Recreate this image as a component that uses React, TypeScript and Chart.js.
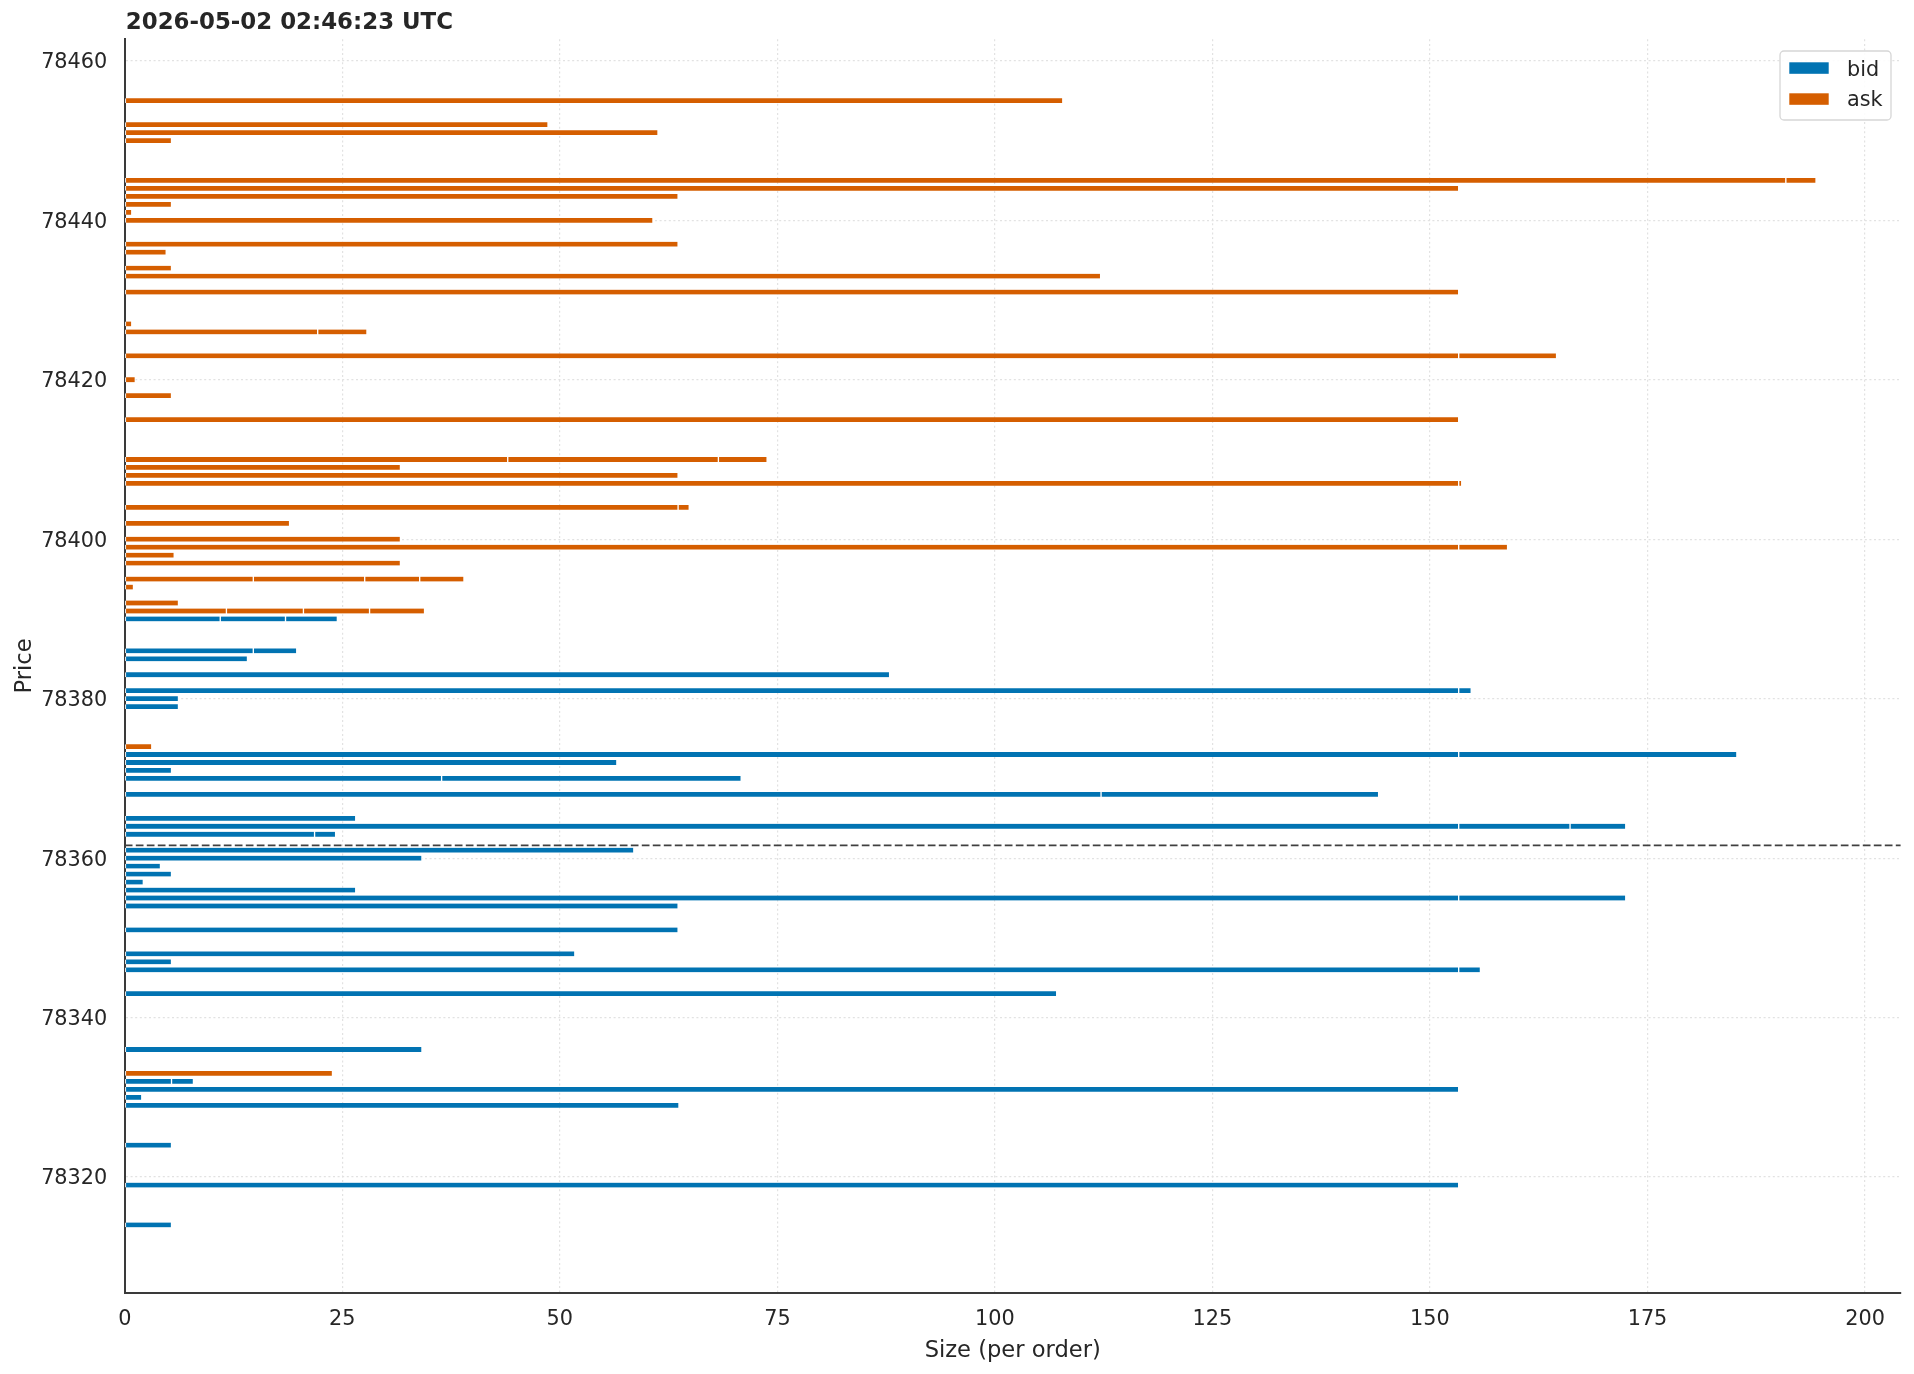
import { useEffect, useRef } from "react";
import { Chart, registerables } from "chart.js";

Chart.register(...registerables);

// Canvas / styling constants
const W = 1914;
const H = 1374;
const FONT = '"DejaVu Sans", "Liberation Sans", sans-serif';
const TEXT = "#262626";
const BID_COLOR = "#0173B2";
const ASK_COLOR = "#D55E00";

const chartTitle = "2026-05-02 02:46:23 UTC";
const xTitle = "Size (per order)";
const yTitle = "Price";

// Order book snapshot: one entry per price level, each level lists its resting orders
const askPrices = [
  78455, 78452, 78451, 78450, 78445, 78444, 78443, 78442, 78441, 78440,
  78437, 78436, 78434, 78433, 78431, 78427, 78426, 78423, 78420, 78418,
  78415, 78410, 78409, 78408, 78407, 78404, 78402, 78400, 78399, 78398,
  78397, 78395, 78394, 78392, 78391, 78374, 78333,
];
const askOrders = [
  [107.8], [48.64], [61.28], [5.37], [190.9, 3.47], [153.3], [63.59], [5.37], [0.8], [60.7],
  [63.59], [4.76], [5.37], [112.15], [153.3], [0.8], [22.17, 5.66], [153.3, 11.25], [1.21], [5.37],
  [153.3], [44.01, 24.21, 5.6], [31.68], [63.59], [153.3, 0.35], [63.59, 1.28], [18.94], [31.68], [153.3, 5.62], [5.68],
  [31.68], [14.77, 12.8, 6.32, 5.09], [1.0], [6.17], [11.68, 8.85, 7.6, 6.32], [3.1], [23.87],
];

const bidPrices = [
  78390, 78386, 78385, 78383, 78381, 78380, 78379, 78373, 78372, 78371,
  78370, 78368, 78365, 78364, 78363, 78361, 78360, 78359, 78358, 78357,
  78356, 78355, 78354, 78351, 78348, 78347, 78346, 78343, 78336, 78332,
  78331, 78330, 78329, 78324, 78319, 78314,
];
const bidOrders = [
  [10.97, 7.5, 5.96], [14.77, 4.99], [14.1], [87.9], [153.3, 1.44], [6.17], [6.17], [153.3, 31.97], [56.55], [5.37],
  [36.41, 34.43], [112.2, 31.9], [26.54], [153.3, 12.8, 6.4], [21.81, 2.42], [58.5], [34.15], [4.1], [5.37], [2.13],
  [26.54], [153.3, 19.2], [63.59], [63.59], [51.72], [5.37], [153.3, 2.5], [107.1], [34.15], [5.37, 2.52],
  [153.3], [1.95], [63.69], [5.37], [153.3], [5.37],
];

const midPrice = 78361.6;

const xTicks = [0, 25, 50, 75, 100, 125, 150, 175, 200];
const yTicks = [78320, 78340, 78360, 78380, 78400, 78420, 78440, 78460];
const yMin = 78305.5;
const yMax = 78462.7;

type Seg = { y: number; x: [number, number] };

// Turn each level's order list into back-to-back floating bar segments
function toSegments(prices: number[], orders: number[][]): Seg[] {
  const out: Seg[] = [];
  prices.forEach((p, i) => {
    let start = 0;
    orders[i].forEach((q) => {
      out.push({ y: p, x: [start, start + q] });
      start += q;
    });
  });
  return out;
}

const levelTotals = [...askOrders, ...bidOrders].map((o) => o.reduce((a, b) => a + b, 0));
const xMax = Math.max(...levelTotals) * 1.05;

const overlayPlugin = {
  id: "bookOverlay",
  afterDatasetsDraw(chart: any) {
    const { ctx, chartArea, scales } = chart;
    const y = scales.y.getPixelForValue(midPrice);
    ctx.save();
    ctx.strokeStyle = "#404040";
    ctx.lineWidth = 1.6;
    ctx.setLineDash([7.7, 3.3]);
    ctx.beginPath();
    ctx.moveTo(chartArea.left, y);
    ctx.lineTo(chartArea.right, y);
    ctx.stroke();
    ctx.restore();
  },
  afterDraw(chart: any) {
    const { ctx, chartArea } = chart;
    ctx.save();
    ctx.fillStyle = TEXT;

    // title
    ctx.font = `bold 22.9px ${FONT}`;
    ctx.textAlign = "left";
    ctx.textBaseline = "alphabetic";
    ctx.fillText(chartTitle, chartArea.left + 1, 29.3);

    // axis titles
    ctx.font = `22.6px ${FONT}`;
    ctx.textAlign = "center";
    ctx.fillText(xTitle, (chartArea.left + chartArea.right) / 2, 1356.7);
    ctx.save();
    ctx.translate(30.8, (chartArea.top + chartArea.bottom) / 2);
    ctx.rotate(-Math.PI / 2);
    ctx.fillText(yTitle, 0, 0);
    ctx.restore();

    // legend
    const bx = chartArea.right - 120.6;
    const by = chartArea.top + 11.7;
    const bw = 111;
    const bh = 69;
    ctx.beginPath();
    ctx.roundRect(bx, by, bw, bh, 4);
    ctx.fillStyle = "rgba(255,255,255,0.9)";
    ctx.fill();
    ctx.strokeStyle = "#d6d6d6";
    ctx.lineWidth = 1.3;
    ctx.stroke();

    const entries = [
      { label: "bid", color: BID_COLOR, py: by + 11.3, ty: by + 24.7 },
      { label: "ask", color: ASK_COLOR, py: by + 42.3, ty: by + 55.3 },
    ];
    ctx.font = `20.8px ${FONT}`;
    ctx.textAlign = "left";
    for (const e of entries) {
      ctx.fillStyle = e.color;
      ctx.fillRect(bx + 9.3, e.py, 39.4, 11.5);
      ctx.fillStyle = TEXT;
      ctx.fillText(e.label, bx + 67, e.ty);
    }
    ctx.restore();
  },
};

export default function App() {
  const canvasRef = useRef<HTMLCanvasElement | null>(null);

  useEffect(() => {
    const canvas = canvasRef.current;
    if (!canvas) return;

    const barStyle = {
      grouped: false,
      barThickness: 4.8,
      borderColor: "#ffffff",
      borderWidth: { left: 1, right: 1, top: 0, bottom: 0 },
      borderSkipped: false,
    };

    const chart = new Chart(canvas, {
      type: "bar",
      data: {
        datasets: [
          { label: "bid", data: toSegments(bidPrices, bidOrders), backgroundColor: BID_COLOR, ...barStyle } as any,
          { label: "ask", data: toSegments(askPrices, askOrders), backgroundColor: ASK_COLOR, ...barStyle } as any,
        ],
      },
      options: {
        indexAxis: "y",
        responsive: false,
        animation: false,
        devicePixelRatio: 1,
        events: [],
        layout: { padding: { left: 0, right: 13.4, top: 39.3, bottom: 0 } },
        plugins: {
          legend: { display: false },
          tooltip: { enabled: false },
          title: { display: false },
        },
        scales: {
          x: {
            type: "linear",
            position: "bottom",
            min: 0,
            max: xMax,
            stacked: false,
            offset: false,
            afterBuildTicks: (s: any) => {
              s.ticks = xTicks.map((v) => ({ value: v }));
            },
            afterFit: (s: any) => {
              s.height = 81.3;
            },
            ticks: {
              callback: (v: any) => String(v),
              font: { family: FONT, size: 20.8 },
              color: TEXT,
              padding: 14,
              maxRotation: 0,
              autoSkip: false,
            },
            grid: { color: "#e2e2e2", lineWidth: 1.2, drawTicks: false, offset: false },
            border: { display: true, color: "#3a3a3a", width: 2, dash: [2, 2.6] },
          },
          y: {
            type: "linear",
            position: "left",
            min: yMin,
            max: yMax,
            offset: false,
            afterBuildTicks: (s: any) => {
              s.ticks = yTicks.map((v) => ({ value: v }));
            },
            afterFit: (s: any) => {
              s.width = 124.8;
            },
            ticks: {
              callback: (v: any) => String(v),
              font: { family: FONT, size: 20.8 },
              color: TEXT,
              padding: 17.5,
              labelOffset: 2,
              autoSkip: false,
            },
            grid: { color: "#e2e2e2", lineWidth: 1.2, drawTicks: false, offset: false },
            border: { display: true, color: "#3a3a3a", width: 2, dash: [2, 2.6] },
          },
        },
      } as any,
      plugins: [overlayPlugin],
    });

    return () => chart.destroy();
  }, []);

  return (
    <div style={{ position: "absolute", left: 0, top: 0, width: W, height: H, background: "#ffffff" }}>
      <canvas ref={canvasRef} width={W} height={H} style={{ display: "block", width: W, height: H }} />
    </div>
  );
}
